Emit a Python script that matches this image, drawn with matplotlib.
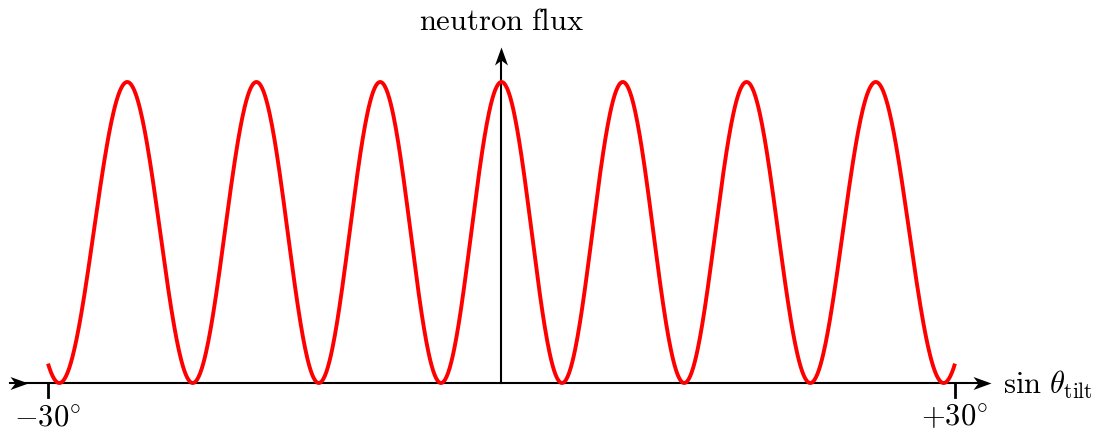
import numpy as np
import matplotlib.pyplot as plt
from matplotlib.path import Path

plt.rcParams["mathtext.fontset"] = "cm"

# angular range of the scan (degrees) and fringe period in sin(theta)
theta_range = [-30, 30]
fringe_period = 0.1396
tick_angles = [-30, 30]
tick_labels = [r"$-30^{\circ}$", r"$+30^{\circ}$"]

theta = np.linspace(theta_range[0], theta_range[1], 1200)
flux = np.cos(np.pi * np.sin(np.radians(theta)) / fringe_period) ** 2

fig = plt.figure(figsize=(11.07, 4.37), dpi=100)
ax = fig.add_axes([0, 0, 1, 1])
ax.set_xlim(-33.175, 40.055)
ax.set_ylim(-0.1794, 1.2724)
ax.axis("off")


def stealth(angle):
    v = np.array([(1, 0), (-1, 0.72), (-0.45, 0), (-1, -0.72), (1, 0)])
    c, s = np.cos(np.radians(angle)), np.sin(np.radians(angle))
    v = v @ np.array([[c, s], [-s, c]])
    return Path(v, [Path.MOVETO, Path.LINETO, Path.LINETO, Path.LINETO, Path.CLOSEPOLY])


# axes
ax.plot([-32.5, 31.8], [0, 0], color="black", lw=1.5, zorder=2)
ax.plot([0, 0], [0, 1.09], color="black", lw=1.5, zorder=2)
ax.plot([-31.9], [0], marker=stealth(0), ms=13, color="black", mew=0, zorder=3)
ax.plot([31.8], [0], marker=stealth(0), ms=13, color="black", mew=0, zorder=3)
ax.plot([0], [1.085], marker=stealth(90), ms=13, color="black", mew=0, zorder=3)

for a, lab in zip(tick_angles, tick_labels):
    ax.plot([a, a], [0, -0.045], color="black", lw=2.0, zorder=2)
    ax.text(a, -0.115, lab, ha="center", va="center", fontsize=22)

ax.text(0, 1.2, r"$\mathrm{neutron\ flux}$", ha="center", va="center", fontsize=22)
ax.text(33.2, -0.005, r"$\sin\,\theta_{\mathrm{tilt}}$", ha="left", va="center", fontsize=22)

ax.plot(theta, flux, color="#ff0000", lw=2.8, zorder=4, solid_capstyle="butt")

fig.savefig("out.png", dpi=100)
